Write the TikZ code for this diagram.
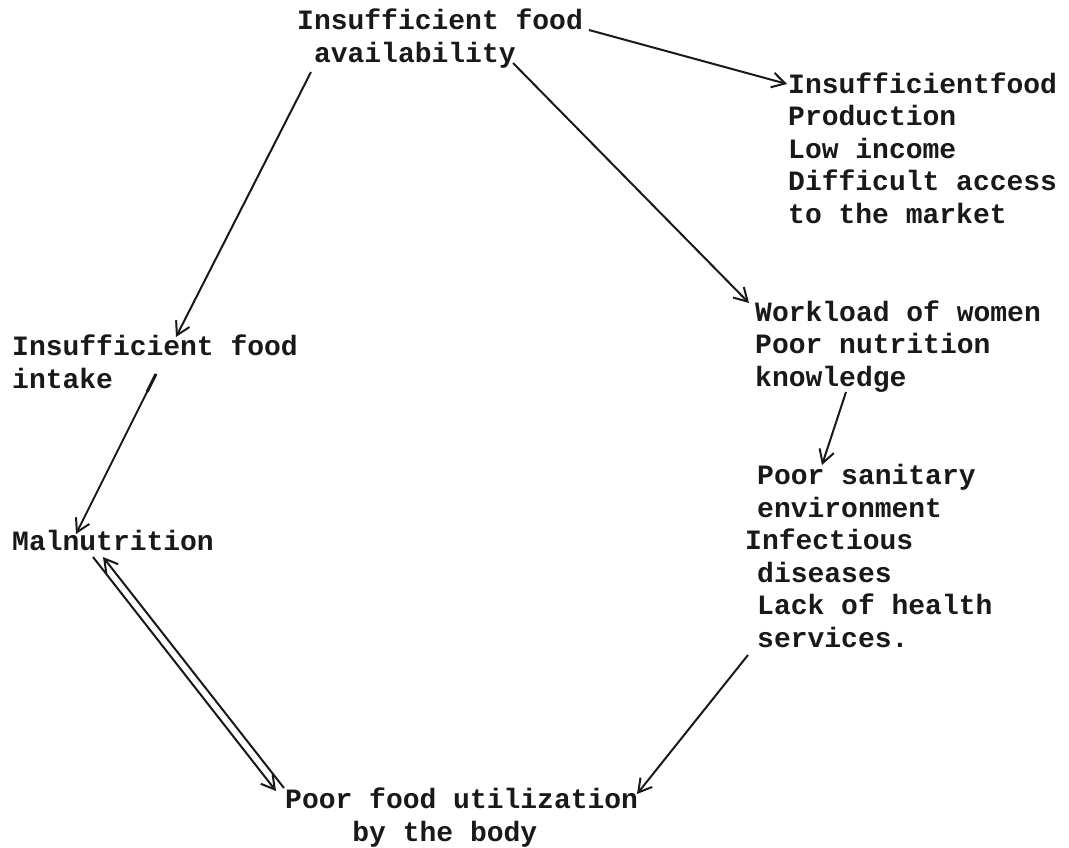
\documentclass[tikz,border=0pt]{standalone}
\usepackage{fontspec}
\setmonofont{Liberation Mono}
\usetikzlibrary{arrows.meta,calc}
\tikzset{
  lbl/.style={anchor=base west, align=left, inner sep=0pt, font=\ttfamily\bfseries\fontsize{28}{32.5}\selectfont, text=black!90},
  conn/.style={draw=black!90, line width=2pt, -{Straight Barb[length=13pt,width=15pt,line width=2pt]}},
  slash/.style={draw=black!90, line width=3pt}
}
\begin{document}
\begin{tikzpicture}[x=1pt,y=-1pt]
\useasboundingbox (0,0) rectangle (1069,847);
% text blocks (anchor = baseline of the last line)
\node[lbl] (top) at (297,62) {Insufficient food\\\phantom{x}availability};
\node[lbl] (prod) at (788,223) {Insufficientfood\\Production\\Low income\\Difficult access\\to the market};
\node[lbl] (work) at (755,386) {Workload of women\\Poor nutrition\\knowledge};
\node[lbl] (sanit) at (757,647) {Poor sanitary\\environment\\\hspace*{-12pt}Infectious\\diseases\\Lack of health\\services.};
\node[lbl] (intake) at (12,388) {Insufficient food\\intake};
\node[lbl] (maln) at (12,550) {Malnutrition};
\node[lbl] (util) at (285,841) {Poor food utilization\\\phantom{xxxx}by the body};
% connector end points
\coordinate (topE) at (589,30);
\coordinate (prodW) at (787,84);
\coordinate (topSE) at (513,63);
\coordinate (workNW) at (749,303);
\coordinate (topSW) at (311,72);
\coordinate (intakeN) at (176,337);
\coordinate (intakeE) at (156,374);
\coordinate (malnN) at (76,534);
\coordinate (malnS1) at (93,557);
\coordinate (malnS2) at (103,557);
\coordinate (utilW1) at (276,791);
\coordinate (utilW2) at (284,788);
\coordinate (workS) at (846,392);
\coordinate (sanitN) at (822,465);
\coordinate (sanitS) at (748,655);
\coordinate (utilNE) at (637,794);
\coordinate (slashEnd) at ($(intakeE)!0.11!(malnN)$);
% connectors
\draw[conn] (topE) -- (prodW);
\draw[conn] (topSE) -- (workNW);
\draw[conn] (topSW) -- (intakeN);
\draw[conn] (intakeE) -- (malnN);
\draw[slash] (intakeE) -- (slashEnd);
\draw[conn] (malnS1) -- (utilW1);
\draw[conn] (utilW2) -- (malnS2);
\draw[conn] (workS) -- (sanitN);
\draw[conn] (sanitS) -- (utilNE);
\end{tikzpicture}
\end{document}
